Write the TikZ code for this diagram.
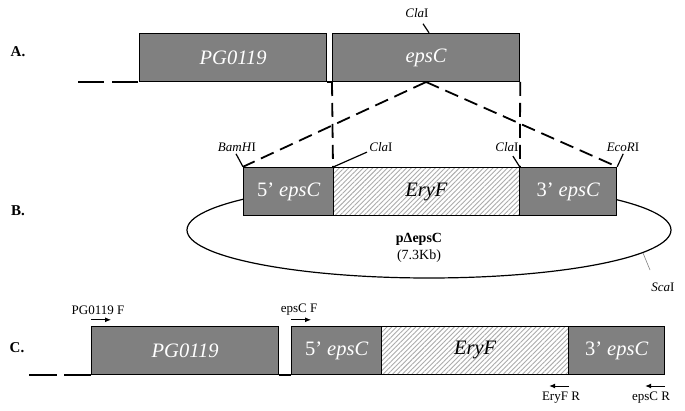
\documentclass[tikz,border=0pt]{standalone}
\usepackage{fontspec}
\setmainfont{Liberation Serif}
\usetikzlibrary{arrows.meta, patterns.meta, calc}

\begin{document}
\begin{tikzpicture}[x=1pt, y=-1pt,
  box/.style={draw=black, line width=1.2pt, minimum height=48pt,
    inner sep=0pt, anchor=south west, font=\fontsize{20.5}{24}\selectfont\itshape},
  gene/.style={box, fill=gray, text=white},
  ery/.style={box, text=black, preaction={fill=white},
    pattern={Lines[angle=45, distance=3.4pt, line width=0.9pt]}, pattern color=gray!65},
  dna/.style={line width=1.2pt},
  swap/.style={line width=1.8pt, dash pattern=on 14pt off 7pt},
  site/.style={line width=1.2pt},
  lbl/.style={inner sep=1pt, font=\fontsize{13}{15}\selectfont},
  row/.style={inner sep=0pt, font=\fontsize{15}{17}\selectfont\bfseries},
  primer/.style={line width=0.9pt, -{Latex[length=6pt, width=5pt]}}]

  \useasboundingbox (0,0) rectangle (685,411);

  % row labels
  \node[row] (rA) at (18,52) {A.};
  \node[row] (rB) at (18,211) {B.};
  \node[row] (rC) at (17,348) {C.};

  % A. chromosome
  \coordinate (aL) at (78,82);
  \node[gene, minimum width=187pt] (pgA) at (139,82) {PG0119};
  \node[gene, minimum width=187pt] (epsA) at (332,82) {epsC};
  \draw[dna, dash pattern=on 26pt off 8pt] (aL) -- (pgA.south west);
  \draw[dna] (pgA.south east) -- (epsA.south west);
  \node[lbl] (claA) at (417,13) {\textit{Cla}I};
  \draw[site] ($(epsA.north west)+(97,0)$) -- ++(-6,-9);

  % B. plasmid
  \draw[line width=1.2pt] (429,230) ellipse [x radius=242pt, y radius=48pt];
  \node[gene, minimum width=90pt] (fiveB) at (243,216) {{\upshape 5’} epsC};
  \node[ery, minimum width=186pt] (eryB) at (333,216) {EryF};
  \node[gene, minimum width=97pt] (threeB) at (519,216) {{\upshape 3’} epsC};

  \node[lbl] (bam) at (237,147) {\textit{BamH}I};
  \node[lbl] (claL) at (381,147) {\textit{Cla}I};
  \node[lbl] (claR) at (507,147) {\textit{Cla}I};
  \node[lbl] (eco) at (623,147) {\textit{EcoR}I};
  \draw[site] (fiveB.north west) -- ++(-7,-13);
  \draw[site] (eryB.north west) -- ++(34,-15);
  \draw[site] (eryB.north east) -- ++(-7,-11);
  \draw[site] (threeB.north east) -- ++(6,-13);

  \node[font=\fontsize{14}{17}\selectfont, align=center] (plas) at (419,248)
    {\textbf{pΔepsC}\\(7.3Kb)};
  \coordinate (sca) at (643,253);
  \node[lbl] (scaL) at (663,287) {\textit{Sca}I};
  \draw[gray, line width=0.6pt] (sca) -- (650,270);

  % exchange
  \draw[swap] (epsA.south) -- (fiveB.north west);
  \draw[swap] (epsA.south) -- (threeB.north east);
  \draw[swap] (epsA.south west) -- (eryB.north west);
  \draw[swap] (epsA.south east) -- (eryB.north east);

  % C. mutant
  \coordinate (cL) at (29,375);
  \node[gene, minimum width=187pt] (pgC) at (91,375) {PG0119};
  \node[gene, minimum width=90pt] (fiveC) at (291,375) {{\upshape 5’} epsC};
  \node[ery, minimum width=187pt] (eryC) at (381,375) {EryF};
  \node[gene, minimum width=96pt] (threeC) at (568,375) {{\upshape 3’} epsC};
  \draw[dna, dash pattern=on 28pt off 7pt] (cL) -- (pgC.south west);
  \draw[dna] (pgC.south east) -- (fiveC.south west);

  % primers
  \node[lbl] (pF) at (98,310) {PG0119 F};
  \node[lbl] (eF) at (299,310) {epsC F};
  \node[lbl] (yR) at (561,398) {EryF R};
  \node[lbl] (eR) at (651,398) {epsC R};
  \draw[primer] ($(pgC.north west)+(0,-6)$) -- ++(20,0);
  \draw[primer] ($(fiveC.north west)+(0,-6)$) -- ++(20,0);
  \draw[primer] ($(eryC.south east)+(0,11)$) -- ++(-20,0);
  \draw[primer] ($(threeC.south east)+(0,11)$) -- ++(-20,0);

\end{tikzpicture}
\end{document}
